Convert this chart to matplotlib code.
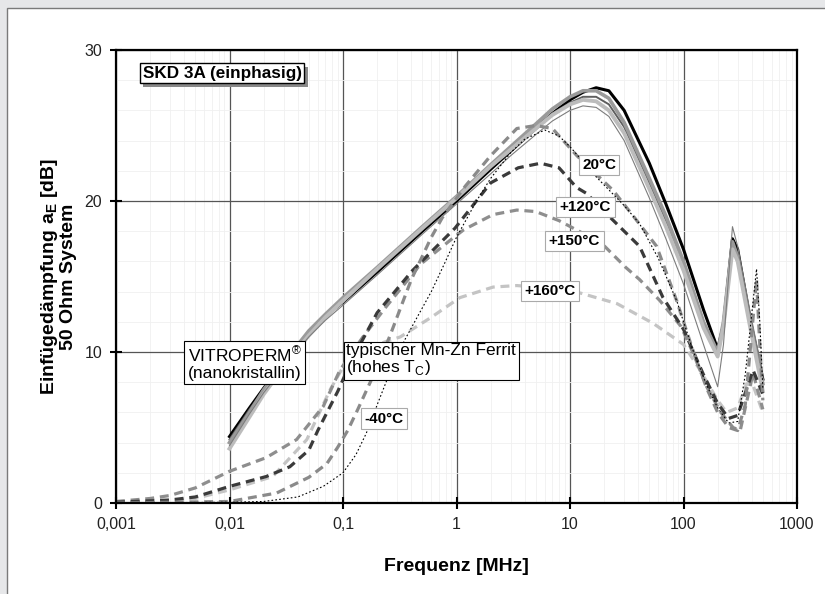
import matplotlib.pyplot as plt
import matplotlib.ticker as mticker
from matplotlib.patches import Rectangle
import matplotlib.patheffects as pe

plt.rcParams['font.family'] = ['Liberation Sans', 'DejaVu Sans']
plt.rcParams['mathtext.fontset'] = 'custom'
plt.rcParams['mathtext.rm'] = 'Liberation Sans'

# ---- VITROPERM (nanokristallin), solid curves -------------------------
vit_f = [0.01, 0.015, 0.02, 0.03, 0.05, 0.07, 0.1, 0.2, 0.5, 1, 2, 3, 5, 7, 10,
         13, 17, 22, 30, 50, 70, 100, 150, 200, 225, 270, 300, 390, 500]
vit_black = [4.4, 6.3, 7.6, 9.3, 11.3, 12.4, 13.3, 15.3, 18.0, 20.0, 22.1, 23.3, 24.8, 25.8, 26.7,
             27.2, 27.5, 27.3, 26.0, 22.5, 19.8, 16.8, 12.8, 10.2, 11.8, 17.5, 16.8, 12.0, 8.2]
vit_dark = [4.2, 6.2, 7.5, 9.2, 11.2, 12.3, 13.3, 15.4, 18.1, 20.1, 22.2, 23.4, 24.9, 25.8, 26.5,
            26.9, 26.9, 26.4, 24.9, 21.2, 18.7, 15.8, 11.8, 9.9, 11.9, 17.2, 16.5, 12.0, 8.1]
vit_mid = [4.0, 6.0, 7.5, 9.3, 11.4, 12.5, 13.6, 15.6, 18.3, 20.3, 22.4, 23.6, 25.1, 26.1, 26.9,
           27.3, 27.3, 26.8, 25.2, 21.5, 19.0, 16.0, 12.0, 10.0, 12.0, 17.3, 16.3, 11.8, 7.9]
vit_light = [3.6, 5.7, 7.2, 9.0, 11.1, 12.3, 13.4, 15.5, 18.2, 20.2, 22.3, 23.4, 24.8, 25.7, 26.4,
             26.7, 26.6, 26.0, 24.5, 20.8, 18.3, 15.4, 11.6, 9.7, 11.7, 16.8, 16.0, 11.5, 7.4]
vit_thin = [3.8, 5.9, 7.3, 9.0, 11.0, 12.1, 13.1, 15.1, 17.8, 19.8, 21.8, 23.0, 24.4, 25.3, 26.0,
            26.3, 26.2, 25.6, 24.0, 20.2, 17.5, 14.5, 10.5, 7.7, 10.5, 18.3, 17.0, 12.5, 8.5]

# ---- typischer Mn-Zn Ferrit, dashed curves ----------------------------
m40_f = [0.001, 0.01, 0.02, 0.04, 0.067, 0.1, 0.13, 0.16, 0.2, 0.27, 0.35, 0.45, 0.6, 0.8, 1,
         1.5, 2, 3, 4, 6, 8, 10, 17, 30, 41, 60, 87, 120, 160, 200, 250, 300, 350, 440, 470, 500]
m40_db = [0.0, 0.05, 0.1, 0.4, 1.1, 2.0, 3.2, 4.6, 6.5, 9.0, 10.8, 12.3, 14.0, 16.0, 17.6,
          20.0, 21.5, 23.2, 24.1, 24.7, 24.3, 23.6, 21.6, 19.7, 18.5, 16.2, 13.4, 10.2, 7.8, 6.3, 5.3, 5.4, 8.5, 15.5, 12.0, 7.6]

t20_f = [0.001, 0.01, 0.026, 0.05, 0.072, 0.09, 0.11, 0.135, 0.2, 0.26, 0.4, 0.6, 0.75, 1.2,
         2, 3.4, 5, 7, 11.5, 24, 37, 58, 87, 120, 160, 200, 250, 300, 350, 440, 470, 500]
t20_db = [0.0, 0.1, 0.66, 1.7, 2.6, 3.7, 4.8, 6.2, 9.0, 11.1, 14.8, 17.6, 18.9, 21.0,
          23.0, 24.8, 25.0, 24.8, 23.0, 20.7, 18.9, 17.0, 13.4, 10.2, 7.6, 6.0, 5.0, 4.8, 6.5, 14.8, 10.5, 6.8]

t120_f = [0.001, 0.003, 0.005, 0.01, 0.021, 0.034, 0.05, 0.06, 0.09, 0.12, 0.2, 0.41, 0.97,
          2, 3.5, 5.5, 8, 11.4, 14, 22, 41, 66, 100, 150, 200, 250, 300, 410, 500]
t120_db = [0.05, 0.2, 0.4, 1.1, 1.75, 2.4, 3.5, 4.8, 7.4, 9.5, 12.6, 15.4, 18.2,
           21.2, 22.2, 22.5, 22.2, 20.9, 20.5, 19.0, 17.0, 13.6, 11.5, 8.5, 6.6, 5.6, 5.8, 8.8, 7.2]

t150_f = [0.001, 0.002, 0.003, 0.005, 0.01, 0.021, 0.039, 0.067, 0.094, 0.15, 0.24, 0.3, 0.48,
          0.88, 1.16, 2.1, 3.4, 5, 8, 12, 19, 31, 41, 62, 95, 122, 160, 213, 273, 316, 410, 500]
t150_db = [0.1, 0.3, 0.5, 1.0, 2.1, 3.0, 4.2, 6.4, 8.8, 11.0, 13.0, 13.9, 15.8,
           17.4, 18.1, 19.1, 19.4, 19.3, 18.7, 18.0, 17.2, 15.6, 14.8, 13.4, 11.7, 9.9, 7.7, 6.0, 5.0, 4.8, 8.6, 6.2]

t160_f = [0.001, 0.003, 0.005, 0.01, 0.024, 0.048, 0.077, 0.1, 0.2, 0.32, 0.6, 1.07, 2.1, 3.4,
          5, 12.4, 26, 54, 100, 140, 200, 240, 300, 360, 410, 500]
t160_db = [0.05, 0.15, 0.3, 0.87, 1.75, 4.2, 7.5, 9.0, 10.5, 11.0, 12.3, 13.6, 14.3, 14.4,
           14.3, 13.9, 13.2, 11.9, 10.5, 8.8, 6.8, 6.0, 6.3, 7.9, 7.8, 6.0]

x_ticks = [0.001, 0.01, 0.1, 1, 10, 100, 1000]
x_labels = ['0,001', '0,01', '0,1', '1', '10', '100', '1000']
y_ticks = [0, 10, 20, 30]

fig = plt.figure(figsize=(8.25, 5.94), dpi=100)
fig.patch.set_facecolor('#e6e7e9')
fig.patches.append(Rectangle((7 / 825, -0.01), 1.0, (594 - 8) / 594 + 0.01,
                             transform=fig.transFigure, facecolor='white',
                             edgecolor='#7a7a7a', linewidth=1.0, zorder=-10))

ax = fig.add_axes([116 / 825, (594 - 503) / 594, 681 / 825, 453 / 594])
ax.set_zorder(1)
ax.set_xscale('log')
ax.set_xlim(0.001, 1000)
ax.set_ylim(0, 30)

# grid
ax.set_xticks(x_ticks)
ax.set_xticklabels(x_labels)
ax.set_yticks(y_ticks)
ax.xaxis.set_minor_locator(mticker.LogLocator(base=10, subs=range(2, 10), numticks=20))
ax.xaxis.set_minor_formatter(mticker.NullFormatter())
ax.yaxis.set_minor_locator(mticker.MultipleLocator(2))
ax.grid(which='major', color='#555555', linewidth=0.9)
ax.grid(which='minor', color='#f0f0f0', linewidth=0.6)
ax.set_axisbelow(True)
ax.tick_params(which='minor', length=0)
ax.tick_params(which='major', direction='inout', length=8, width=1.5,
               labelsize=11.5, labelcolor='#222222', pad=6)
for s in ax.spines.values():
    s.set_linewidth(1.6)
    s.set_color('black')

# VITROPERM
ax.plot(vit_f, vit_black, color='black', lw=2.2)
ax.plot(vit_f, vit_dark, color='#5e5e5e', lw=1.4)
ax.plot(vit_f, vit_mid, color='#9a9a9a', lw=2.6)
ax.plot(vit_f, vit_light, color='#bcbcbc', lw=2.8)
ax.plot(vit_f, vit_thin, color='#7c7c7c', lw=0.8)

# Ferrit
dash = (2.8, 1.8)
ax.plot(t160_f, t160_db, color='#c4c4c4', lw=2.3, dashes=dash)
ax.plot(t150_f, t150_db, color='#8e8e8e', lw=2.3, dashes=dash)
ax.plot(t120_f, t120_db, color='#3a3a3a', lw=2.3, dashes=dash)
ax.plot(t20_f, t20_db, color='#8a8a8a', lw=2.3, dashes=dash)
ax.plot(m40_f, m40_db, color='black', lw=0.8, dashes=(1.5, 2))

ax.set_xlabel('Frequenz [MHz]', fontsize=14, fontweight='bold', labelpad=19)
ax.set_ylabel('Einfügedämpfung a$_\\mathregular{E}$ [dB]\n50 Ohm System',
              fontsize=14, fontweight='bold', labelpad=5, linespacing=1.05)

# annotations
t = ax.text(0.039, 0.949, 'SKD 3A (einphasig)', transform=ax.transAxes, fontsize=12.3,
            fontweight='bold', ha='left', va='center', zorder=5,
            bbox=dict(boxstyle='square,pad=0.15', fc='white', ec='black', lw=1.0))
t.get_bbox_patch().set_path_effects([pe.withSimplePatchShadow(offset=(2.5, -2.5),
                                                              shadow_rgbFace='#888888', alpha=1)])

ax.text(0.1894, 0.310, 'VITROPERM$^{\\mathregular{®}}$\n(nanokristallin)', transform=ax.transAxes,
        fontsize=12.5, ha='center', va='center', multialignment='left', zorder=5, linespacing=1.05,
        bbox=dict(boxstyle='square,pad=0.2', fc='white', ec='black', lw=0.8))
ax.text(0.4626, 0.3157, 'typischer Mn-Zn Ferrit\n(hohes T$_\\mathregular{C}$)', transform=ax.transAxes,
        fontsize=12.5, ha='center', va='center', multialignment='left', zorder=5, linespacing=1.05,
        bbox=dict(boxstyle='square,pad=0.15', fc='white', ec='black', lw=0.8))

temp_labels = ['-40°C', '20°C', '+120°C', '+150°C', '+160°C']
temp_pos = [(0.3935, 0.1865), (0.7093, 0.7461), (0.6894, 0.6534), (0.6733, 0.5784), (0.638, 0.468)]
for lab, (x, y) in zip(temp_labels, temp_pos):
    ax.text(x, y, lab, transform=ax.transAxes, fontsize=11, fontweight='bold',
            ha='center', va='center', zorder=5,
            bbox=dict(boxstyle='square,pad=0.22', fc='white', ec='#aaaaaa', lw=0.8))

fig.savefig('out.png', dpi=100, facecolor=fig.get_facecolor())
